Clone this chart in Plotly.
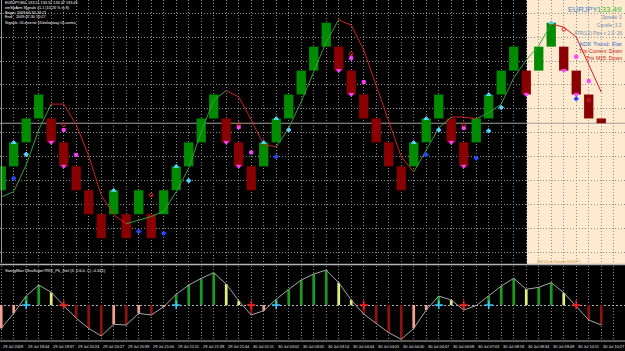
import plotly.graph_objects as go

# ---------------- data ----------------
x_idx = list(range(49))

brick_open = [133.35, 133.40, 133.45, 133.50, 133.50, 133.45, 133.40, 133.35, 133.30, 133.30,
              133.30, 133.30, 133.30, 133.30, 133.35, 133.40, 133.45, 133.50, 133.50, 133.45,
              133.40, 133.40, 133.45, 133.50, 133.55, 133.60, 133.65, 133.65, 133.60, 133.55,
              133.50, 133.45, 133.40, 133.40, 133.45, 133.50, 133.50, 133.45, 133.45, 133.50,
              133.55, 133.60, 133.60, 133.60, 133.65, 133.65, 133.60, 133.55, 133.50]
brick_close = [133.40, 133.45, 133.50, 133.55, 133.45, 133.40, 133.35, 133.30, 133.25, 133.35,
               133.25, 133.35, 133.25, 133.35, 133.40, 133.45, 133.50, 133.55, 133.45, 133.40,
               133.35, 133.45, 133.50, 133.55, 133.60, 133.65, 133.70, 133.60, 133.55, 133.50,
               133.45, 133.40, 133.35, 133.45, 133.50, 133.55, 133.45, 133.40, 133.50, 133.55,
               133.60, 133.65, 133.55, 133.65, 133.70, 133.60, 133.55, 133.50, 133.49]

ma_line = [133.336, 133.347, 133.403, 133.476, 133.530, 133.530, 133.487, 133.422, 133.340, 133.299,
           133.280, 133.288, 133.295, 133.306, 133.347, 133.396, 133.472, 133.539, 133.558, 133.545,
           133.497, 133.445, 133.441, 133.480, 133.535, 133.597, 133.660, 133.706, 133.695, 133.643,
           133.568, 133.491, 133.420, 133.388, 133.434, 133.480, 133.503, 133.503, 133.499, 133.512,
           133.530, 133.585, 133.622, 133.652, 133.697, 133.691, 133.670, 133.612, 133.555]

bid_price = 133.49

trix = [-0.398, -0.142, 0.154, 0.341, 0.217, -0.009, -0.227, -0.398, -0.529, -0.329,
        -0.341, -0.142, -0.171, -0.029, 0.182, 0.341, 0.455, 0.551, 0.358, 0.073,
        -0.171, -0.097, 0.097, 0.268, 0.427, 0.529, 0.597, 0.381, 0.085, -0.154,
        -0.312, -0.473, -0.585, -0.398, -0.085, 0.154, 0.085, -0.085, -0.009, 0.154,
        0.324, 0.455, 0.268, 0.302, 0.381, 0.210, -0.029, -0.256, -0.341]

cross_up_idx = [2, 14, 22, 35, 39]
cross_dn_idx = [5, 20, 29, 37, 46]

tick_up_x = [1, 9, 14, 21, 22, 33, 34, 39, 44]
tick_up_p = [133.45, 133.35, 133.40, 133.45, 133.50, 133.45, 133.50, 133.55, 133.70]
tick_dn_x = [4, 5, 18, 19, 27, 28, 36, 37, 42, 45, 46]
tick_dn_p = [133.45, 133.40, 133.45, 133.40, 133.60, 133.55, 133.45, 133.40, 133.55, 133.60, 133.55]
cyan_x = [2, 15, 23, 35, 39, 40]
cyan_p = [133.425, 133.370, 133.476, 133.476, 133.474, 133.523]
blue_x = [1, 11, 13, 22, 34, 38, 46]
blue_p = [133.375, 133.264, 133.260, 133.420, 133.424, 133.417, 133.541]
mag_x = [5, 6, 19, 20, 28, 29, 37, 46, 47]
mag_p = [133.476, 133.424, 133.482, 133.429, 133.626, 133.576, 133.480, 133.629, 133.578]
red_x = [5, 12, 19, 28, 37, 45, 47]
red_p = [133.487, 133.340, 133.489, 133.635, 133.487, 133.686, 133.539]

time_labels = ["29 Jul 2009", "29 Jul 18:44", "29 Jul 19:37", "29 Jul 20:24", "29 Jul 20:27",
               "29 Jul 20:39", "29 Jul 21:00", "29 Jul 21:11", "29 Jul 21:39", "29 Jul 21:44",
               "30 Jul 01:11", "30 Jul 03:02", "30 Jul 03:05", "30 Jul 03:14", "30 Jul 04:44",
               "30 Jul 04:05", "30 Jul 04:40", "30 Jul 04:47", "30 Jul 04:08", "30 Jul 07:03",
               "30 Jul 08:18", "30 Jul 08:34", "30 Jul 09:49", "30 Jul 10:11", "30 Jul 10:27"]
label_idx = list(range(0, 49, 2))

info_lines = ["EURJPY,M4  133.51 133.52 133.47 133.49",
              "emSwArm Signals v1.1 (10.26 % in 8)",
              "Begin: 2009.06.30 23:21",
              "End:   2009.07.30 10:27",
              "Signals: ULinverse ULbelowway ULcontra"]
sub_title = "SwingMan UltraSuperTRIX_Pk_Xml (3, 0.6,0, C) -0.341)"

# ---------------- geometry helpers ----------------
W, H, PB = 625, 351, 10
PH = H - PB
def px(x):
    return x / W
def py(y):
    return (PH - y) / PH

FONT = "Liberation Sans, Arial, sans-serif"
GREEN_B, RED_B = "#008C00", "#8A0000"

fig = go.Figure()

# bricks
b_base = [min(o, c) for o, c in zip(brick_open, brick_close)]
b_h = [abs(c - o) for o, c in zip(brick_open, brick_close)]
b_col = [GREEN_B if c > o else RED_B for o, c in zip(brick_open, brick_close)]
fig.add_trace(go.Bar(x=x_idx, y=b_h, base=b_base, width=0.745,
                     marker=dict(color=b_col, line=dict(width=0)),
                     xaxis="x", yaxis="y", showlegend=False))

# MA line coloured by direction
def seg_dir(k):
    return "up" if ma_line[k + 1] > ma_line[k] else "dn"
s = 0
n = len(ma_line)
while s < n - 1:
    d = seg_dir(s)
    e = s + 1
    while e < n - 1 and seg_dir(e) == d:
        e += 1
    fig.add_trace(go.Scatter(x=x_idx[s:e + 1], y=ma_line[s:e + 1], mode="lines",
                             line=dict(color="#3A9E3A" if d == "up" else "#D42020", width=1),
                             xaxis="x", yaxis="y", showlegend=False))
    s = e

# markers main
def mk(xs, ys, sym, size, color):
    fig.add_trace(go.Scatter(x=xs, y=ys, mode="markers",
                             marker=dict(symbol=sym, size=size, color=color,
                                         line=dict(width=1, color=color)),
                             xaxis="x", yaxis="y", showlegend=False))
mk(tick_up_x, tick_up_p, "triangle-up", 4, "#55D4FF")
mk(tick_dn_x, tick_dn_p, "triangle-down", 4, "#FF3CFF")
mk(cyan_x, cyan_p, "diamond", 3.5, "#55D4FF")
mk(blue_x, blue_p, "diamond", 3.5, "#2848FF")
mk(mag_x, mag_p, "square", 3, "#FF40FF")
mk(red_x, red_p, "circle-open", 3.5, "#E02020")

# TRIX histogram
h_col = []
for k, v in enumerate(trix):
    rising = (k == 0) or (v > trix[k - 1])
    if v >= 0:
        h_col.append("#1E9A1E" if rising else "#DDF27E")
    else:
        h_col.append("#F4A090" if rising else "#8E1212")
fig.add_trace(go.Bar(x=x_idx, y=trix, width=0.22, marker=dict(color=h_col, line=dict(width=0)),
                     xaxis="x2", yaxis="y2", showlegend=False))
fig.add_trace(go.Scatter(x=x_idx, y=trix, mode="lines", line=dict(color="#A8A8A8", width=1),
                         xaxis="x2", yaxis="y2", showlegend=False))
fig.add_trace(go.Scatter(x=cross_up_idx, y=[0] * len(cross_up_idx), mode="markers",
                         marker=dict(symbol="cross-thin", size=6, line=dict(width=1.6, color="#38C8FF")),
                         xaxis="x2", yaxis="y2", showlegend=False))
fig.add_trace(go.Scatter(x=cross_dn_idx, y=[0] * len(cross_dn_idx), mode="markers",
                         marker=dict(symbol="cross-thin", size=6, line=dict(width=1.6, color="#FF2020")),
                         xaxis="x2", yaxis="y2", showlegend=False))

# ---------------- layout ----------------
xr = [-0.096, 49.9]
DOT = "1px,2px"
grid = dict(showgrid=True, gridcolor="#8C8C8C", griddash=DOT, gridwidth=1,
            zeroline=False, showline=False, showticklabels=False, ticks="")
fig.update_layout(
    width=W, height=H, margin=dict(l=0, r=0, t=0, b=PB),
    paper_bgcolor="#000000", plot_bgcolor="rgba(0,0,0,0)",
    barmode="overlay", showlegend=False,
    xaxis=dict(domain=[0, 1], anchor="y", range=xr, tick0=0, dtick=1, **grid),
    yaxis=dict(domain=[py(263), 1], anchor="x", range=[133.198, 133.7475],
               tick0=133.27, dtick=0.05, **grid),
    xaxis2=dict(domain=[0, 1], anchor="y2", range=xr, matches="x", tick0=0, dtick=1, **grid),
    yaxis2=dict(domain=[0, py(266)], anchor="x2", range=[-0.614, 0.666], tickvals=[0],
                showgrid=True, gridcolor="#B0B0B0", griddash="2px,2px", gridwidth=1,
                zeroline=False, showline=False, showticklabels=False, ticks=""),
)

shapes = [
    dict(type="rect", xref="paper", yref="paper", x0=px(527), x1=1, y0=py(265), y1=1,
         fillcolor="#FFE9CF", line=dict(width=0), layer="below"),
    dict(type="line", xref="paper", yref="y", x0=0, x1=1, y0=bid_price, y1=bid_price,
         line=dict(color="#A0A0A0", width=1), layer="below"),
    dict(type="line", xref="paper", yref="paper", x0=0, x1=1, y0=py(264.5), y1=py(264.5),
         line=dict(color="#B4B4B4", width=1.5), layer="above"),
    dict(type="line", xref="paper", yref="paper", x0=0, x1=1, y0=py(341), y1=py(341),
         line=dict(color="#B4B4B4", width=1), layer="above"),
    dict(type="line", xref="paper", yref="paper", x0=px(1.5), x1=px(1.5), y0=py(263), y1=1,
         line=dict(color="#9A9A9A", width=1), layer="above"),
]
fig.update_layout(shapes=shapes)

ann = []
def txt(x, y, t, size, color, anchor="left"):
    ann.append(dict(xref="paper", yref="paper", x=px(x), y=py(y), text=t, showarrow=False,
                    xanchor=anchor, yanchor="middle", font=dict(family=FONT, size=size, color=color)))

for t, yy in zip(info_lines, [3.2, 7.9, 12.6, 17.3, 22.5]):
    txt(3, yy, t, 3.8, "#FFFFFF")
txt(3, 270, sub_title, 4, "#FFFFFF")

# right info panel (right-aligned so nothing is clipped)
txt(566, 10, "EURJPY", 7.5, "#3C82C8")
txt(624, 10, "133.49", 8, "#2DBE2D", anchor="right")
txt(624, 17.5, "Spread: 3", 4.5, "#6A8AB0", anchor="right")
txt(624, 25, "Candle: 3.2", 4.8, "#6A8AB0", anchor="right")
txt(624, 33, "ATR(12) Pips x 2.0: 26", 4.8, "#6A8AB0", anchor="right")
txt(624, 43.5, "ADX Trend: Flat", 6, "#3A6FD0", anchor="right")
txt(624, 51.5, "Trix Current: Down", 5.2, "#C82020", anchor="right")
txt(624, 58.5, "Trix M15: Down", 5.2, "#C82020", anchor="right")
txt(535, 261.5, "(SW Ulises Plumpus EURJPY)", 3.2, "#C8A030")

for k, lab in zip(label_idx, time_labels):
    ann.append(dict(xref="x2", yref="paper", x=k, y=py(346.5), text=lab, showarrow=False,
                    xanchor="left", yanchor="middle", xshift=-0.5,
                    font=dict(family=FONT, size=3.9, color="#E6E6E6")))

fig.update_layout(annotations=ann)
fig.write_html("out.html")
